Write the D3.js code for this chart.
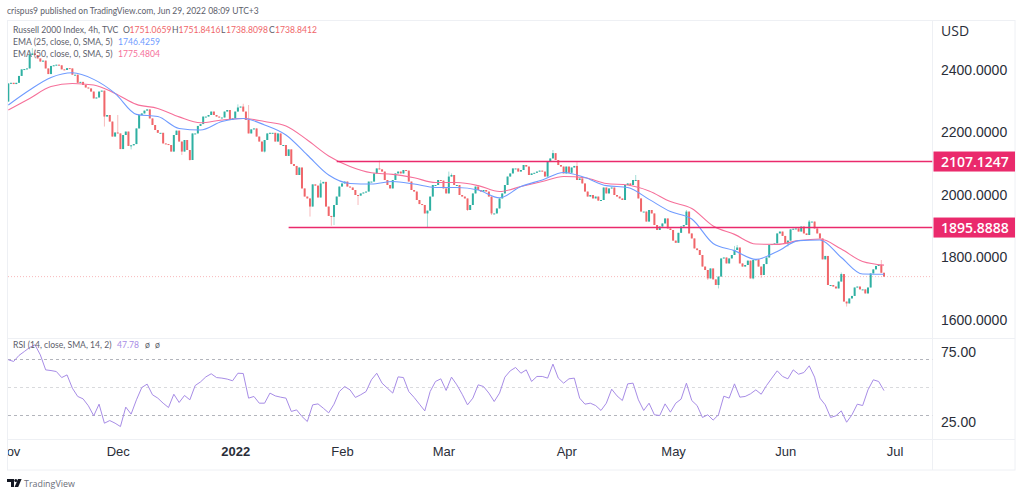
<!DOCTYPE html>
<html>
<head>
<meta charset="utf-8">
<script src="https://cdn.jsdelivr.net/npm/d3@7"></script>
<style>
  html, body { margin: 0; padding: 0; background: #fff; }
  svg { display: block; font-family: "Open Sans", sans-serif; }
</style>
</head>
<body>
<script>
// closes, one list per month (4h bars, two per session)
const novCloses = [2357,2359,2355,2359,2381,2402,2403,2405,2448,2453,2448,2437,2427,2430,2405,2387,2413,2415,2417,2415,2402,2400,2406,2405,2385,2385,2359,2362,2352,2344,2341,2331,2309,2312,2331,2334,2251,2256,2235,2187,2200];
const decCloses = [2197,2147,2192,2203,2157,2159,2163,2213,2256,2261,2270,2274,2245,2224,2208,2199,2199,2165,2163,2160,2139,2192,2206,2171,2139,2176,2144,2112,2197,2197,2221,2227,2251,2251,2256,2267,2256,2251,2248,2248,2267,2272,2240,2245];
const janCloses = [2267,2280,2283,2267,2240,2197,2210,2213,2187,2171,2139,2176,2197,2199,2199,2171,2197,2160,2160,2125,2146,2099,2093,2064,2088,2021,1995,1989,1963,2034,2030,1992,2037,2042,1963,1933,1930,1968,1995,2027];
const febCloses = [2037,2043,2027,2024,2016,2000,1998,2005,2008,2011,2043,2043,2069,2085,2082,2075,2048,2032,2021,2048,2069,2075,2069,2080,2078,2043,2016,2011,1984,1971,1968,1941,1950,1995,2032,2032,2048,2046];
const marCloses = [2021,2005,2059,2064,2032,2032,2000,1995,1989,1952,1968,2005,2027,2016,2011,2016,2011,1995,1941,1941,1957,1989,2005,2032,2059,2069,2085,2085,2075,2080,2096,2091,2064,2069,2071,2075,2078,2075,2059,2107,2117,2134,2112,2096,2091,2069];
const aprCloses = [2091,2071,2088,2093,2048,2053,2037,2011,1995,2000,1989,1995,1982,1984,2024,2005,2021,2024,2000,1995,1989,1984,2032,2037,2032,2048,2048,1989,1947,1947,1915,1952,1941,1904,1888,1899,1909,1925,1893,1888];
const mayCloses = [1854,1847,1879,1899,1904,1947,1877,1861,1829,1824,1808,1771,1760,1733,1765,1730,1712,1739,1797,1800,1781,1797,1808,1824,1832,1781,1771,1776,1790,1733,1792,1794,1771,1744,1779,1800,1840,1843,1845,1877,1883,1869];
const junCloses = [1845,1854,1890,1892,1893,1883,1899,1877,1872,1915,1915,1893,1877,1861,1794,1805,1712,1712,1707,1701,1723,1747,1659,1653,1669,1677,1704,1707,1698,1698,1685,1704,1749,1762,1773,1776,1751.07,1738.84];
const firstOpen = 2299;

// visible wicks: bar number, high, low
const wickBars =  [8,9,10,36,41,46,65,68,86,88,90,96,113,117,121,122,131,139,157,165,166,172,181,204,213,235,254,258,262,265,266,272,273,279,282,292,300,306,307,312,314,327,328];
const wickHighs = [2462,2470,2465,null,2256,null,null,null,2290,2292,2288,null,null,2048,null,null,null,2110,null,2075,2069,null,null,2144,2107,2064,1952,null,null,null,null,1837,1840,null,null,null,1920,null,1755,1752,null,1792,1751.84];
const wickLows =  [null,null,null,2219,null,2146,2128,2110,null,null,null,2136,1931,null,1902,1904,1968,null,1896,null,null,1949,1936,null,null,null,null,1822,1728,1717,1701,null,null,1730,1735,1835,null,1794,null,null,1643,null,1738.81];

// moving averages, read every 8th bar
const ema25 = [2288,2336,2376,2391,2370,2325,2258,2251,2213,2208,2235,2245,2224,2192,2128,2064,2037,2035,2043,2035,2024,2024,2016,1991,2027,2048,2072,2056,2030,2024,1986,1947,1923,1845,1822,1794,1819,1854,1856,1800,1747,1746.43];
const ema50 = [2272,2309,2347,2357,2352,2325,2290,2277,2250,2231,2240,2245,2235,2221,2176,2125,2091,2071,2066,2055,2040,2040,2030,2011,2027,2043,2059,2055,2037,2032,2013,1979,1957,1901,1874,1843,1842,1854,1859,1827,1787,1775.48];

// RSI, read every 2nd bar
const rsi = [69.8,68.6,72.9,75.7,78.6,80.5,73.3,62.6,62.1,61.4,57.1,59.0,49.5,43.6,41.9,36.9,29.8,38.1,24.5,26.4,24.5,22.1,36.0,31.0,41.2,50,52.4,44.8,42.4,38.8,35.7,45.2,39.3,44.3,41.2,51.4,54.0,57.6,59.8,57.1,56.7,56.0,54.8,60.2,60.0,42.4,43.6,38.8,38.8,46.0,44.0,43.1,42.4,32.9,34.0,29.3,25.7,37.6,38.3,35.2,31.9,38.1,47.1,50.7,48.3,42.9,44.8,47.1,55.5,60.2,53.1,49.5,46.0,57.6,57.1,47.1,42.9,38.1,33.3,47.1,54.3,56.2,47.9,57.4,51.9,45.2,37.6,42.4,51.9,50.7,46.0,40.0,46.0,
  57.4,61.9,64.3,60.2,62.6,54.3,57.9,57.9,56.7,66.7,56.7,53.1,56.2,56.7,42.4,38.1,38.8,37.1,33.6,38.8,48.8,44.0,40.7,52.6,53.1,41.2,33.6,38.8,30.5,30.0,38.3,32.4,38.8,41.7,53.1,40.7,37.1,28.6,30.5,26.7,30.5,43.8,42.4,52.6,43.1,43.6,45.5,48.3,45.2,51.4,56.7,61.9,57.9,56.2,62.6,59.5,60.7,65.5,57.4,42.4,37.6,28.6,29.8,33.3,25.2,30.5,38.1,37.1,48.3,55.5,54.3,47.78];

const monthLabels = ["Nov","Dec","2022","Feb","Mar","Apr","May","Jun","Jul"];
const monthBars = [0,41,85,125,163,209,249,291,332];
const priceTicks = [1600,1800,2000,2200,2400];
const rsiTicks = [25,75];
const rsiBands = [70,50,30];
const levels = [2107.1247,1895.8888];
const levelStartBars = [123,105];
const lastPrice = 1738.8412;

const closes = [...novCloses,...decCloses,...janCloses,...febCloses,...marCloses,...aprCloses,...mayCloses,...junCloses];
const wickOf = new Map(wickBars.map((b, i) => [b, i]));
const candles = closes.map((c, i) => {
  const open = i ? closes[i - 1] : firstOpen;
  const w = wickOf.get(i);
  const hi = w !== undefined && wickHighs[w] !== null ? wickHighs[w] : Math.max(open, c);
  const lo = w !== undefined && wickLows[w] !== null ? wickLows[w] : Math.min(open, c);
  return { i, open, close: c, hi, lo };
});

const width = 1024, height = 495;
const paneLeft = 8, paneRight = 932.5, paneTop = 20, mainBottom = 338, rsiBottom = 439, axisBottom = 470, outerRight = 1015;
const up = "#2fb0a2", down = "#f0666a", blue = "#6f9bff", pink = "#f6709a", purple = "#a78ce6", magenta = "#ea2a6c", ink = "#2a2e39", gridLine = "#eef0f4";

const x = d3.scaleLinear().domain([0, closes.length - 1]).range([8.3, 884]);
const y = d3.scaleLinear().domain([1600, 2400]).range([320, 70]);
const yRsi = d3.scaleLinear().domain([25, 75]).range([422.5, 352.5]);

const svg = d3.select("body").append("svg").attr("width", width).attr("height", height);
svg.append("rect").attr("width", width).attr("height", height).attr("fill", "#fff");
svg.append("defs").append("clipPath").attr("id", "pane")
  .append("rect").attr("x", paneLeft).attr("y", paneTop).attr("width", paneRight - paneLeft).attr("height", axisBottom - paneTop);

// frame
const frame = svg.append("g").attr("stroke", gridLine).attr("fill", "none");
frame.append("rect").attr("x", 7.5).attr("y", 20.5).attr("width", outerRight - 7.5).attr("height", axisBottom - 20.5);
frame.append("line").attr("x1", paneRight).attr("x2", paneRight).attr("y1", 20).attr("y2", axisBottom);
frame.append("line").attr("x1", 8).attr("x2", outerRight).attr("y1", mainBottom + 0.5).attr("y2", mainBottom + 0.5);
frame.append("line").attr("x1", 8).attr("x2", outerRight).attr("y1", rsiBottom + 0.5).attr("y2", rsiBottom + 0.5);

const plot = svg.append("g").attr("clip-path", "url(#pane)");

// last price line
plot.append("line").attr("x1", paneLeft).attr("x2", paneRight)
  .attr("y1", y(lastPrice)).attr("y2", y(lastPrice))
  .attr("stroke", down).attr("stroke-opacity", 0.45).attr("stroke-dasharray", "1 2");

// candles
const candle = plot.append("g").selectAll("g").data(candles).join("g")
  .attr("stroke", d => d.close >= d.open ? up : down)
  .attr("fill", d => d.close >= d.open ? up : down);
candle.append("line")
  .attr("x1", d => x(d.i)).attr("x2", d => x(d.i))
  .attr("y1", d => y(d.hi)).attr("y2", d => y(d.lo))
  .attr("stroke-opacity", 0.55).attr("stroke-width", 0.8);
candle.append("rect")
  .attr("x", d => x(d.i) - 1).attr("width", 2)
  .attr("y", d => y(Math.max(d.open, d.close)))
  .attr("height", d => Math.max(1, Math.abs(y(d.open) - y(d.close))))
  .attr("stroke", "none");

// moving averages
const maLine = d3.line().x((d, i) => x(i * 8)).y(d => y(d)).curve(d3.curveMonotoneX);
plot.append("path").attr("d", maLine(ema50)).attr("fill", "none").attr("stroke", pink).attr("stroke-width", 1.1);
plot.append("path").attr("d", maLine(ema25)).attr("fill", "none").attr("stroke", blue).attr("stroke-width", 1.1);

// drawn levels
plot.append("g").selectAll("line").data(levels).join("line")
  .attr("x1", (d, i) => x(levelStartBars[i])).attr("x2", paneRight)
  .attr("y1", d => y(d)).attr("y2", d => y(d))
  .attr("stroke", magenta).attr("stroke-width", 1.4);

// rsi
plot.append("g").selectAll("line").data(rsiBands).join("line")
  .attr("x1", paneLeft).attr("x2", paneRight)
  .attr("y1", d => yRsi(d)).attr("y2", d => yRsi(d))
  .attr("stroke", "#9598a1").attr("stroke-dasharray", "3 3").attr("stroke-width", 0.8)
  .attr("stroke-opacity", (d, i) => i === 1 ? 0.45 : 0.9);
plot.append("path")
  .attr("d", d3.line().x((d, i) => x(i * 2)).y(d => yRsi(d))(rsi))
  .attr("fill", "none").attr("stroke", purple).attr("stroke-width", 1);

// axes
const axisFont = g => g.call(s => s.select(".domain").remove())
  .selectAll("text").attr("fill", ink).attr("font-size", 14);
svg.append("g").attr("transform", `translate(${paneRight},0)`)
  .call(d3.axisRight(y).tickValues(priceTicks).tickSize(0).tickPadding(8.5).tickFormat(d3.format(".4f")))
  .call(axisFont);
svg.append("g").attr("transform", `translate(${paneRight},0)`)
  .call(d3.axisRight(yRsi).tickValues(rsiTicks).tickSize(0).tickPadding(8.5).tickFormat(d3.format(".2f")))
  .call(axisFont);
svg.append("defs").append("clipPath").attr("id", "timeClip")
  .append("rect").attr("x", paneLeft).attr("y", rsiBottom).attr("width", paneRight - paneLeft).attr("height", axisBottom - rsiBottom);
const timeAxis = svg.append("g").attr("clip-path", "url(#timeClip)").append("g").attr("transform", `translate(0,${rsiBottom})`)
  .call(d3.axisBottom(x).tickValues(monthBars).tickSize(0).tickPadding(8).tickFormat((d, i) => monthLabels[i]))
  .call(axisFont);
timeAxis.selectAll("text").attr("font-size", 13).attr("font-weight", (d, i) => monthLabels[i] === "2022" ? 700 : 400);

svg.append("text").attr("x", 941).attr("y", 36).attr("fill", ink).attr("font-size", 14).text("USD");

// level tags
const tags = svg.append("g").selectAll("g").data(levels).join("g");
tags.append("rect").attr("x", paneRight + 1).attr("width", outerRight - paneRight - 1)
  .attr("y", d => y(d) - 10).attr("height", 20).attr("fill", magenta);
tags.append("text").attr("x", 941).attr("y", d => y(d) + 5).attr("fill", "#fff")
  .attr("font-size", 14).attr("font-weight", 600).text(d => d.toFixed(4));

// legend text
const legend = svg.append("g").attr("font-family", "Lato, sans-serif").attr("font-size", 8.6).attr("fill", "#5d606b");
const legendRows = [
  { y: 33, parts: [[13, "Russell 2000 Index, 4h, TVC"], [123, "O"], [129.5, "1751.0659", down], [172, "H"], [178.5, "1751.8416", down], [221, "L"], [226, "1738.8098", down], [269, "C"], [275, "1738.8412", down]] },
  { y: 45, parts: [[13, "EMA (25, close, 0, SMA, 5)"], [118, "1746.4259", blue]] },
  { y: 57, parts: [[13, "EMA (50, close, 0, SMA, 5)"], [118, "1775.4804", pink]] },
  { y: 348, parts: [[13, "RSI (14, close, SMA, 14, 2)"], [117, "47.78", purple], [145, "ø"], [155, "ø"]] }
];
legendRows.forEach(row => row.parts.forEach(([px, str, col]) => {
  legend.append("text").attr("x", px).attr("y", row.y).attr("fill", col || null).text(str);
}));

// header and footer
svg.append("text").attr("x", 7).attr("y", 14).attr("font-family", "Lato, sans-serif").attr("font-size", 8.5).attr("fill", "#5d606b")
  .text("crispus9 published on TradingView.com, Jun 29, 2022 08:09 UTC+3");
const logo = svg.append("g").attr("fill", "#131722");
logo.append("path").attr("d", "M7 479h7v8h-3v-5H7z");
logo.append("circle").attr("cx", 15.8).attr("cy", 480.5).attr("r", 1.5);
logo.append("path").attr("d", "M18 479h3.6l-3.4 8h-3.6z");
svg.append("text").attr("x", 24).attr("y", 487).attr("font-size", 8.9).attr("fill", "#6a6d78").text("TradingView");
</script>
</body>
</html>
